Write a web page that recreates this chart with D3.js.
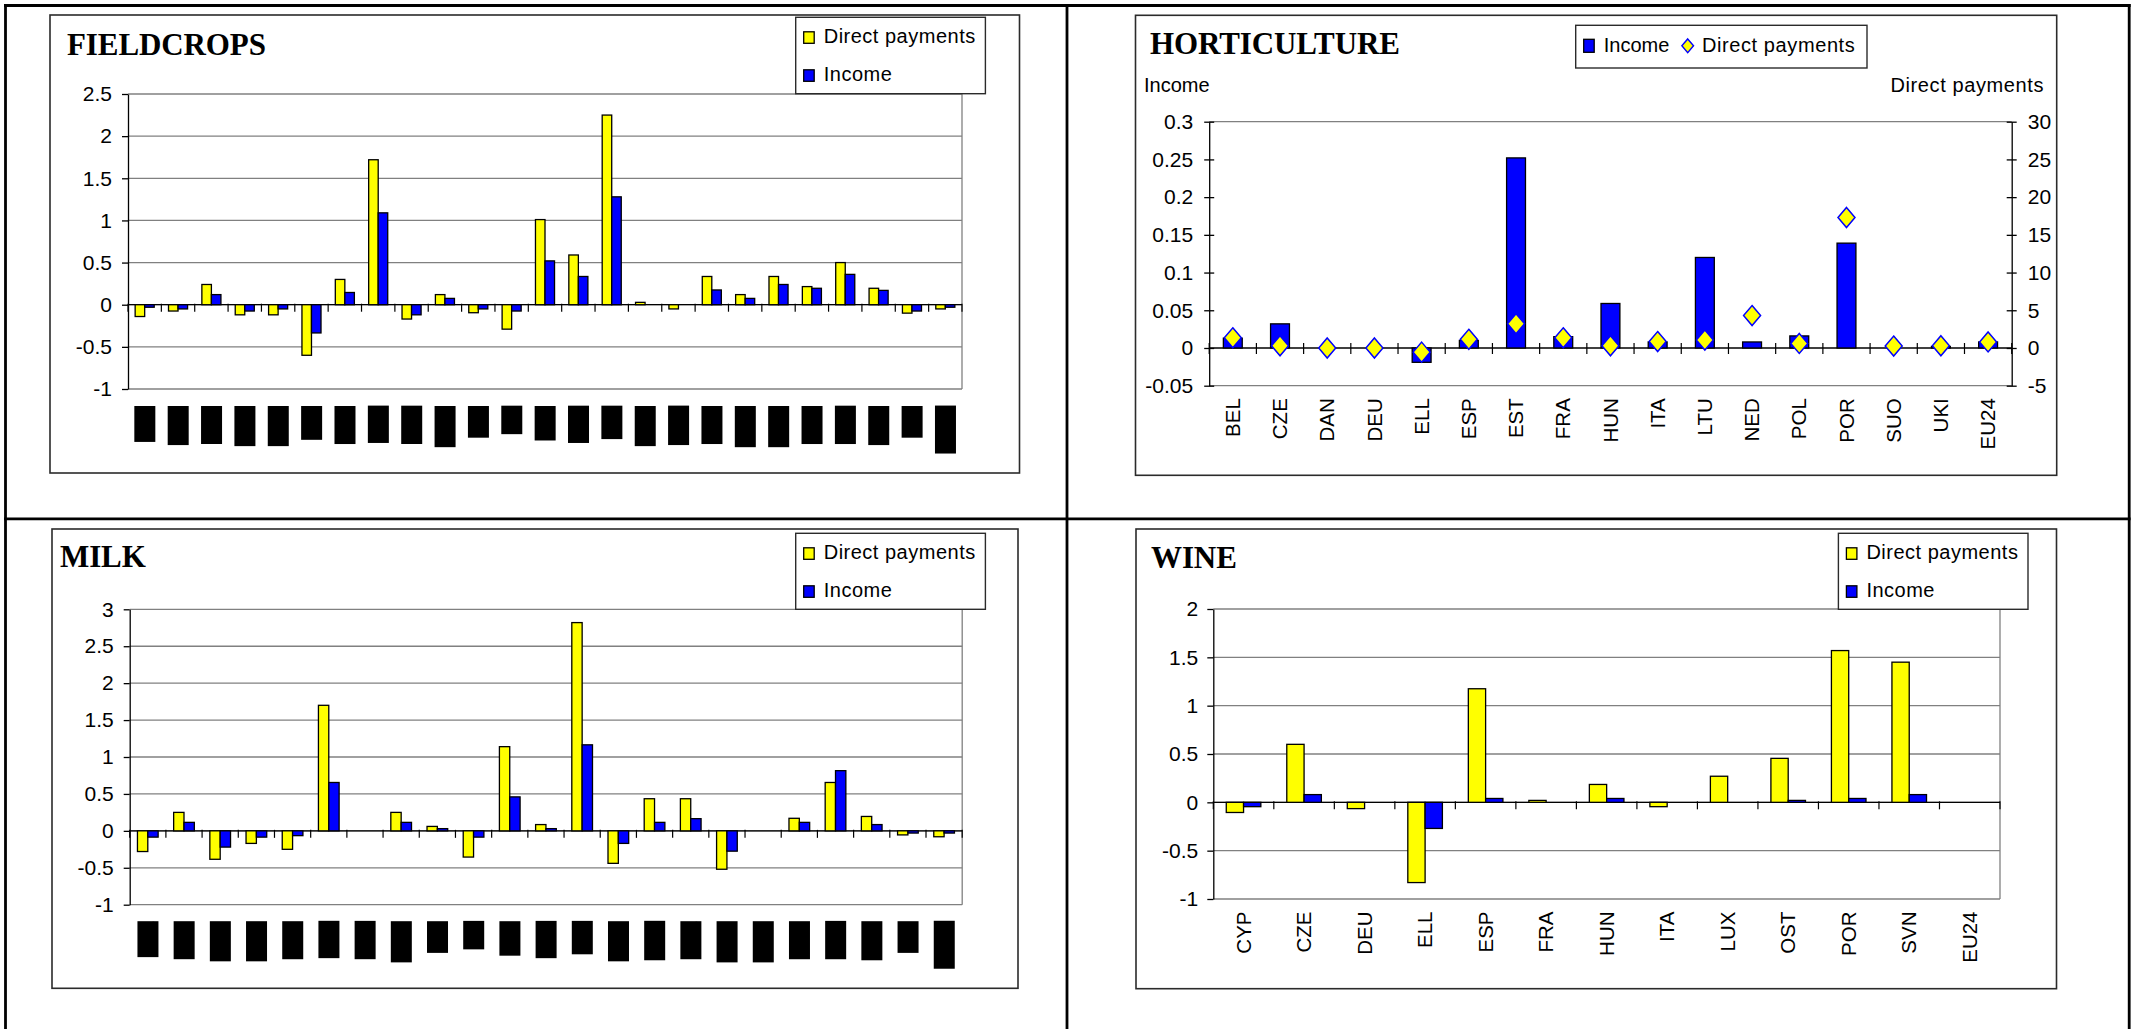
<!DOCTYPE html>
<html>
<head>
<meta charset="utf-8">
<script src="https://cdn.jsdelivr.net/npm/d3@7"></script>
<style>
  html, body { margin: 0; padding: 0; background: #fff; }
  svg { display: block; }
  text { font-family: "Liberation Sans", Arial, sans-serif; fill: #000; }
  .title { font-family: "Liberation Serif", "Times New Roman", serif; font-weight: bold; }
</style>
</head>
<body>
<svg id="chart" width="2140" height="1029"></svg>
<script>
// ---------- FIELDCROPS ----------
const fieldcropsCountries = ["BEL","CYP","CZE","DAN","DEU","ELL","ESP","EST","FRA","HUN","IRE","ITA","LTU",
  "LUX","LVA","NED","OST","POL","POR","SUO","SVE","SVK","SVN","UKI","EU24"];
const fieldcropsDirectPayments = [-0.14,-0.075,0.24,-0.12,-0.12,-0.6,0.3,1.72,-0.17,0.12,-0.095,-0.29,1.01,
  0.59,2.25,0.028,-0.05,0.335,0.12,0.335,0.215,0.5,0.195,-0.1,-0.05];
const fieldcropsIncome = [-0.03,-0.05,0.12,-0.075,-0.05,-0.335,0.145,1.09,-0.12,0.075,-0.05,-0.075,0.52,
  0.335,1.28,0,0,0.175,0.075,0.24,0.195,0.36,0.17,-0.075,-0.03];
const fieldcropsTicks = [-1,-0.5,0,0.5,1,1.5,2,2.5];
const fieldcropsTickLabels = ["-1","-0.5","0","0.5","1","1.5","2","2.5"];

// ---------- MILK ----------
const milkCountries = ["BEL","CZE","DAN","DEU","ESP","EST","FRA","HUN","IRE","ITA","LTU","LUX","LVA",
  "NED","OST","POL","POR","SUO","SVE","SVK","SVN","UKI","EU24"];
const milkDirectPayments = [-0.28,0.25,-0.385,-0.17,-0.25,1.7,0,0.25,0.06,-0.355,1.14,0.085,2.82,
  -0.44,0.435,0.435,-0.52,0,0.17,0.655,0.195,-0.055,-0.08];
const milkIncome = [-0.085,0.115,-0.22,-0.085,-0.065,0.655,0,0.115,0.03,-0.085,0.46,0.03,1.165,
  -0.17,0.115,0.165,-0.275,0,0.115,0.815,0.085,-0.03,-0.03];
const milkTicks = [-1,-0.5,0,0.5,1,1.5,2,2.5,3];
const milkTickLabels = ["-1","-0.5","0","0.5","1","1.5","2","2.5","3"];

// ---------- WINE ----------
const wineCountries = ["CYP","CZE","DEU","ELL","ESP","FRA","HUN","ITA","LUX","OST","POR","SVN","EU24"];
const wineDirectPayments = [-0.105,0.6,-0.065,-0.83,1.175,0.02,0.185,-0.045,0.27,0.455,1.57,1.45,0];
const wineIncome = [-0.045,0.08,0,-0.27,0.04,0,0.04,0,0,0.02,0.04,0.08,0];
const wineTicks = [-1,-0.5,0,0.5,1,1.5,2];
const wineTickLabels = ["-1","-0.5","0","0.5","1","1.5","2"];

// ---------- HORTICULTURE ----------
const horticultureCountries = ["BEL","CZE","DAN","DEU","ELL","ESP","EST","FRA","HUN","ITA","LTU","NED",
  "POL","POR","SUO","UKI","EU24"];
const horticultureIncome = [0.013,0.032,0,0,-0.019,0.01,0.252,0.015,0.059,0.008,0.12,0.008,0.016,0.139,0,0.002,0.008];
const horticultureDirectPayments = [1.35,0.3,0,0,-0.55,1.15,3.2,1.35,0.3,0.85,1.05,4.3,0.6,17.3,0.25,0.3,0.8];
const horticultureIncomeTicks = [-0.05,0,0.05,0.1,0.15,0.2,0.25,0.3];
const horticultureIncomeTickLabels = ["-0.05","0","0.05","0.1","0.15","0.2","0.25","0.3"];
const horticulturePaymentTicks = [-5,0,5,10,15,20,25,30];
const horticulturePaymentTickLabels = ["-5","0","5","10","15","20","25","30"];

const seriesNames = { dp: "Direct payments", income: "Income" };

// ---------- styling ----------
const YELLOW = "#FFFF00", BLUE = "#0000FF", GRID = "#808080", FRAME = "#2b2b2b";
const FONT = 20, TICK_FONT = 21;

const svg = d3.select("#chart");
svg.append("rect").attr("width", 2140).attr("height", 1029).attr("fill", "#fff");

// page rules separating the four panels
const rules = svg.append("g").attr("stroke", "#000").attr("stroke-width", 2.8);
[[4, 5.5, 2130.6, 5.5], [4, 518.8, 2130.6, 518.8], [5.5, 4, 5.5, 1029],
 [1067, 4, 1067, 1029], [2129.2, 4, 2129.2, 1029]].forEach(([x1, y1, x2, y2]) =>
  rules.append("line").attr("x1", x1).attr("y1", y1).attr("x2", x2).attr("y2", y2));

// wide diamond marker (width / height = 0.85)
const wideDiamond = {
  draw(ctx, size) {
    const h = Math.sqrt(2 * size / 0.85) / 2, w = h * 0.85;
    ctx.moveTo(0, -h); ctx.lineTo(w, 0); ctx.lineTo(0, h); ctx.lineTo(-w, 0); ctx.closePath();
  }
};

function frameAndTitle(g, p) {
  g.append("rect")
    .attr("x", p.frame[0]).attr("y", p.frame[1])
    .attr("width", p.frame[2] - p.frame[0]).attr("height", p.frame[3] - p.frame[1])
    .attr("fill", "#fff").attr("stroke", FRAME).attr("stroke-width", 1.6);
  g.append("text").attr("class", "title")
    .attr("x", p.titleX).attr("y", p.titleY)
    .attr("font-size", 31).attr("letter-spacing", -0.1).text(p.title);
}

function styleAxis(ax) {
  ax.select(".domain").attr("stroke", "#000").attr("stroke-width", 1.3);
  ax.selectAll(".tick line").attr("stroke", "#000").attr("stroke-width", 1.3);
  ax.selectAll(".tick text").attr("font-size", TICK_FONT).attr("fill", "#000")
    .attr("font-family", "Liberation Sans, Arial, sans-serif");
}

function categoryLabels(g, x, cats, top, blocked) {
  const lab = g.append("g").selectAll("g").data(cats).join("g")
    .attr("transform", d => `translate(${x(d) + x.bandwidth() / 2},${top}) rotate(-90)`);
  lab.append("text")
    .attr("text-anchor", "end").attr("dy", "0.35em")
    .attr("font-size", blocked ? 19 : 20.5)
    .text(d => d);
  if (blocked) {
    // labels printed as solid black blocks
    lab.each(function () {
      const b = d3.select(this).select("text").node().getBBox();
      d3.select(this).insert("rect", "text")
        .attr("x", b.x).attr("y", b.y).attr("width", b.width).attr("height", b.height)
        .attr("fill", "#000");
    });
  }
}

// grouped bar panel: Direct payments (yellow) + Income (blue)
function groupedPanel(p) {
  const g = svg.append("g");
  frameAndTitle(g, p);
  const P = p.plot;
  const x = d3.scaleBand().domain(p.categories).range([P.left, P.right]).padding(0);
  const y = d3.scaleLinear().domain(d3.extent(p.ticks)).range([P.bottom, P.top]);

  // horizontal gridlines
  g.append("g").selectAll("line").data(p.ticks).join("line")
    .attr("x1", P.left).attr("x2", P.right)
    .attr("y1", d => y(d)).attr("y2", d => y(d))
    .attr("stroke", GRID).attr("stroke-width", 1.3);
  g.append("line").attr("x1", P.right).attr("x2", P.right)
    .attr("y1", P.top).attr("y2", P.bottom).attr("stroke", GRID).attr("stroke-width", 1.3);

  // value axis
  const ax = g.append("g").attr("transform", `translate(${P.left},0)`)
    .call(d3.axisLeft(y).tickValues(p.ticks).tickFormat((d, i) => p.tickLabels[i])
      .tickSizeInner(6).tickSizeOuter(0).tickPadding(p.tickPad));
  styleAxis(ax);

  // category axis along zero with ticks at band boundaries
  const y0 = y(0);
  g.append("line").attr("x1", P.left).attr("x2", P.right).attr("y1", y0).attr("y2", y0)
    .attr("stroke", "#000").attr("stroke-width", 1.3);
  const bounds = p.categories.map(c => x(c)).concat([P.right]);
  g.append("g").selectAll("line").data(bounds).join("line")
    .attr("x1", d => d).attr("x2", d => d).attr("y1", y0 - 1).attr("y2", y0 + 7)
    .attr("stroke", "#000").attr("stroke-width", 1.2);

  // bars: Excel style, gap width 150 %
  const w = x.bandwidth() / 3.5;
  const series = [
    { values: p.dp, color: YELLOW, offset: 0.75 },
    { values: p.income, color: BLUE, offset: 1.75 }
  ];
  series.forEach(s => {
    g.append("g").selectAll("rect")
      .data(p.categories.map((c, i) => ({ c, v: s.values[i] })).filter(d => d.v !== 0))
      .join("rect")
      .attr("x", d => x(d.c) + s.offset * w)
      .attr("y", d => Math.min(y(d.v), y0))
      .attr("width", w)
      .attr("height", d => Math.abs(y(d.v) - y0))
      .attr("fill", s.color).attr("stroke", "#000").attr("stroke-width", 1.3);
  });

  categoryLabels(g, x, p.categories, P.bottom + p.labelGap, p.blocked);

  // legend
  const L = p.legend;
  const lg = g.append("g").attr("transform", `translate(${L.x},${L.y})`);
  lg.append("rect").attr("width", L.w).attr("height", L.h)
    .attr("fill", "#fff").attr("stroke", FRAME).attr("stroke-width", 1.4);
  [[seriesNames.dp, YELLOW], [seriesNames.income, BLUE]].forEach(([name, col], i) => {
    const yy = 14.5 + i * 38;
    lg.append("rect").attr("x", 8).attr("y", yy).attr("width", 10.5).attr("height", 11.5)
      .attr("fill", col).attr("stroke", "#000").attr("stroke-width", 1.3);
    lg.append("text").attr("x", 28).attr("y", yy + 11.5).attr("font-size", FONT)
      .attr("letter-spacing", 0.5).text(name);
  });
}

groupedPanel({
  title: "FIELDCROPS", frame: [50, 15, 1019.5, 473], titleX: 67, titleY: 54.5,
  plot: { left: 128, right: 962, top: 94, bottom: 389 },
  categories: fieldcropsCountries, dp: fieldcropsDirectPayments, income: fieldcropsIncome,
  ticks: fieldcropsTicks, tickLabels: fieldcropsTickLabels, tickPad: 10,
  legend: { x: 795.7, y: 17.3, w: 189.7, h: 76.4 }, labelGap: 17, blocked: true
});

groupedPanel({
  title: "MILK", frame: [52, 529, 1018, 988.3], titleX: 60, titleY: 567,
  plot: { left: 129.7, right: 962.2, top: 609.3, bottom: 904.7 },
  categories: milkCountries, dp: milkDirectPayments, income: milkIncome,
  ticks: milkTicks, tickLabels: milkTickLabels, tickPad: 10,
  legend: { x: 795.7, y: 533.3, w: 189.7, h: 76 }, labelGap: 16.5, blocked: true
});

groupedPanel({
  title: "WINE", frame: [1136, 529, 2056.5, 988.7], titleX: 1151, titleY: 568.3,
  plot: { left: 1213.3, right: 2000, top: 609, bottom: 899 },
  categories: wineCountries, dp: wineDirectPayments, income: wineIncome,
  ticks: wineTicks, tickLabels: wineTickLabels, tickPad: 9,
  legend: { x: 1838.4, y: 533.3, w: 189.6, h: 76 }, labelGap: 12.5, blocked: false
});

// ---------- horticulture: income bars (left axis) + direct payment diamonds (right axis) ----------
(function () {
  const p = {
    title: "HORTICULTURE", frame: [1135.5, 15.3, 2056.7, 475.3], titleX: 1150, titleY: 54.3,
    plot: { left: 1209.2, right: 2011.7, top: 121.7, bottom: 385.7 }
  };
  const g = svg.append("g");
  frameAndTitle(g, p);
  const P = p.plot;
  const x = d3.scaleBand().domain(horticultureCountries).range([P.left, P.right]).padding(0);
  const yL = d3.scaleLinear().domain(d3.extent(horticultureIncomeTicks)).range([P.bottom, P.top]);
  const yR = d3.scaleLinear().domain(d3.extent(horticulturePaymentTicks)).range([P.bottom, P.top]);

  // plot-area border (top / bottom)
  [P.top, P.bottom].forEach(yy => g.append("line")
    .attr("x1", P.left).attr("x2", P.right).attr("y1", yy).attr("y2", yy)
    .attr("stroke", GRID).attr("stroke-width", 1.3));

  // axis titles
  g.append("text").attr("x", 1144).attr("y", 91.7).attr("font-size", FONT).text("Income");
  g.append("text").attr("x", 2044).attr("y", 91.7).attr("font-size", FONT)
    .attr("text-anchor", "end").attr("letter-spacing", 0.6).text("Direct payments");

  const axL = g.append("g").attr("transform", `translate(${P.left},0)`)
    .call(d3.axisLeft(yL).tickValues(horticultureIncomeTicks)
      .tickFormat((d, i) => horticultureIncomeTickLabels[i])
      .tickSizeInner(5).tickSizeOuter(0).tickPadding(11));
  styleAxis(axL);
  axL.selectAll(".tick line").attr("x1", 5);

  const axR = g.append("g").attr("transform", `translate(${P.right},0)`)
    .call(d3.axisRight(yR).tickValues(horticulturePaymentTicks)
      .tickFormat((d, i) => horticulturePaymentTickLabels[i])
      .tickSizeInner(5).tickSizeOuter(0).tickPadding(11));
  styleAxis(axR);
  axR.selectAll(".tick line").attr("x1", -5);

  const y0 = yL(0);
  g.append("line").attr("x1", P.left).attr("x2", P.right).attr("y1", y0).attr("y2", y0)
    .attr("stroke", "#000").attr("stroke-width", 1.3);
  const bounds = horticultureCountries.map(c => x(c)).concat([P.right]);
  g.append("g").selectAll("line").data(bounds).join("line")
    .attr("x1", d => d).attr("x2", d => d).attr("y1", y0 - 5).attr("y2", y0 + 6)
    .attr("stroke", "#000").attr("stroke-width", 1.2);

  const w = x.bandwidth() / 2.5;
  g.append("g").selectAll("rect")
    .data(horticultureCountries.map((c, i) => ({ c, v: horticultureIncome[i] })).filter(d => d.v !== 0))
    .join("rect")
    .attr("x", d => x(d.c) + 0.75 * w)
    .attr("y", d => Math.min(yL(d.v), y0))
    .attr("width", w)
    .attr("height", d => Math.abs(yL(d.v) - y0))
    .attr("fill", BLUE).attr("stroke", "#000").attr("stroke-width", 1.3);

  const sym = d3.symbol().type(wideDiamond).size(170);
  g.append("g").selectAll("path")
    .data(horticultureCountries.map((c, i) => ({ c, v: horticultureDirectPayments[i] })))
    .join("path")
    .attr("transform", d => `translate(${x(d.c) + x.bandwidth() / 2},${yR(d.v)})`)
    .attr("d", sym)
    .attr("fill", YELLOW).attr("stroke", BLUE).attr("stroke-width", 1.5);

  categoryLabels(g, x, horticultureCountries, P.bottom + 12.5, false);

  // legend (single row)
  const lg = g.append("g").attr("transform", "translate(1575.7,25.3)");
  lg.append("rect").attr("width", 291.3).attr("height", 42.7)
    .attr("fill", "#fff").attr("stroke", FRAME).attr("stroke-width", 1.4);
  lg.append("rect").attr("x", 8).attr("y", 14).attr("width", 10.5).attr("height", 13)
    .attr("fill", BLUE).attr("stroke", "#000").attr("stroke-width", 1.3);
  lg.append("text").attr("x", 28).attr("y", 27).attr("font-size", FONT).text(seriesNames.income);
  lg.append("path").attr("transform", "translate(112,20.5)")
    .attr("d", d3.symbol().type(wideDiamond).size(80)())
    .attr("fill", YELLOW).attr("stroke", BLUE).attr("stroke-width", 1.4);
  lg.append("text").attr("x", 126.2).attr("y", 27).attr("font-size", FONT)
    .attr("letter-spacing", 0.6).text(seriesNames.dp);
})();
</script>
</body>
</html>
